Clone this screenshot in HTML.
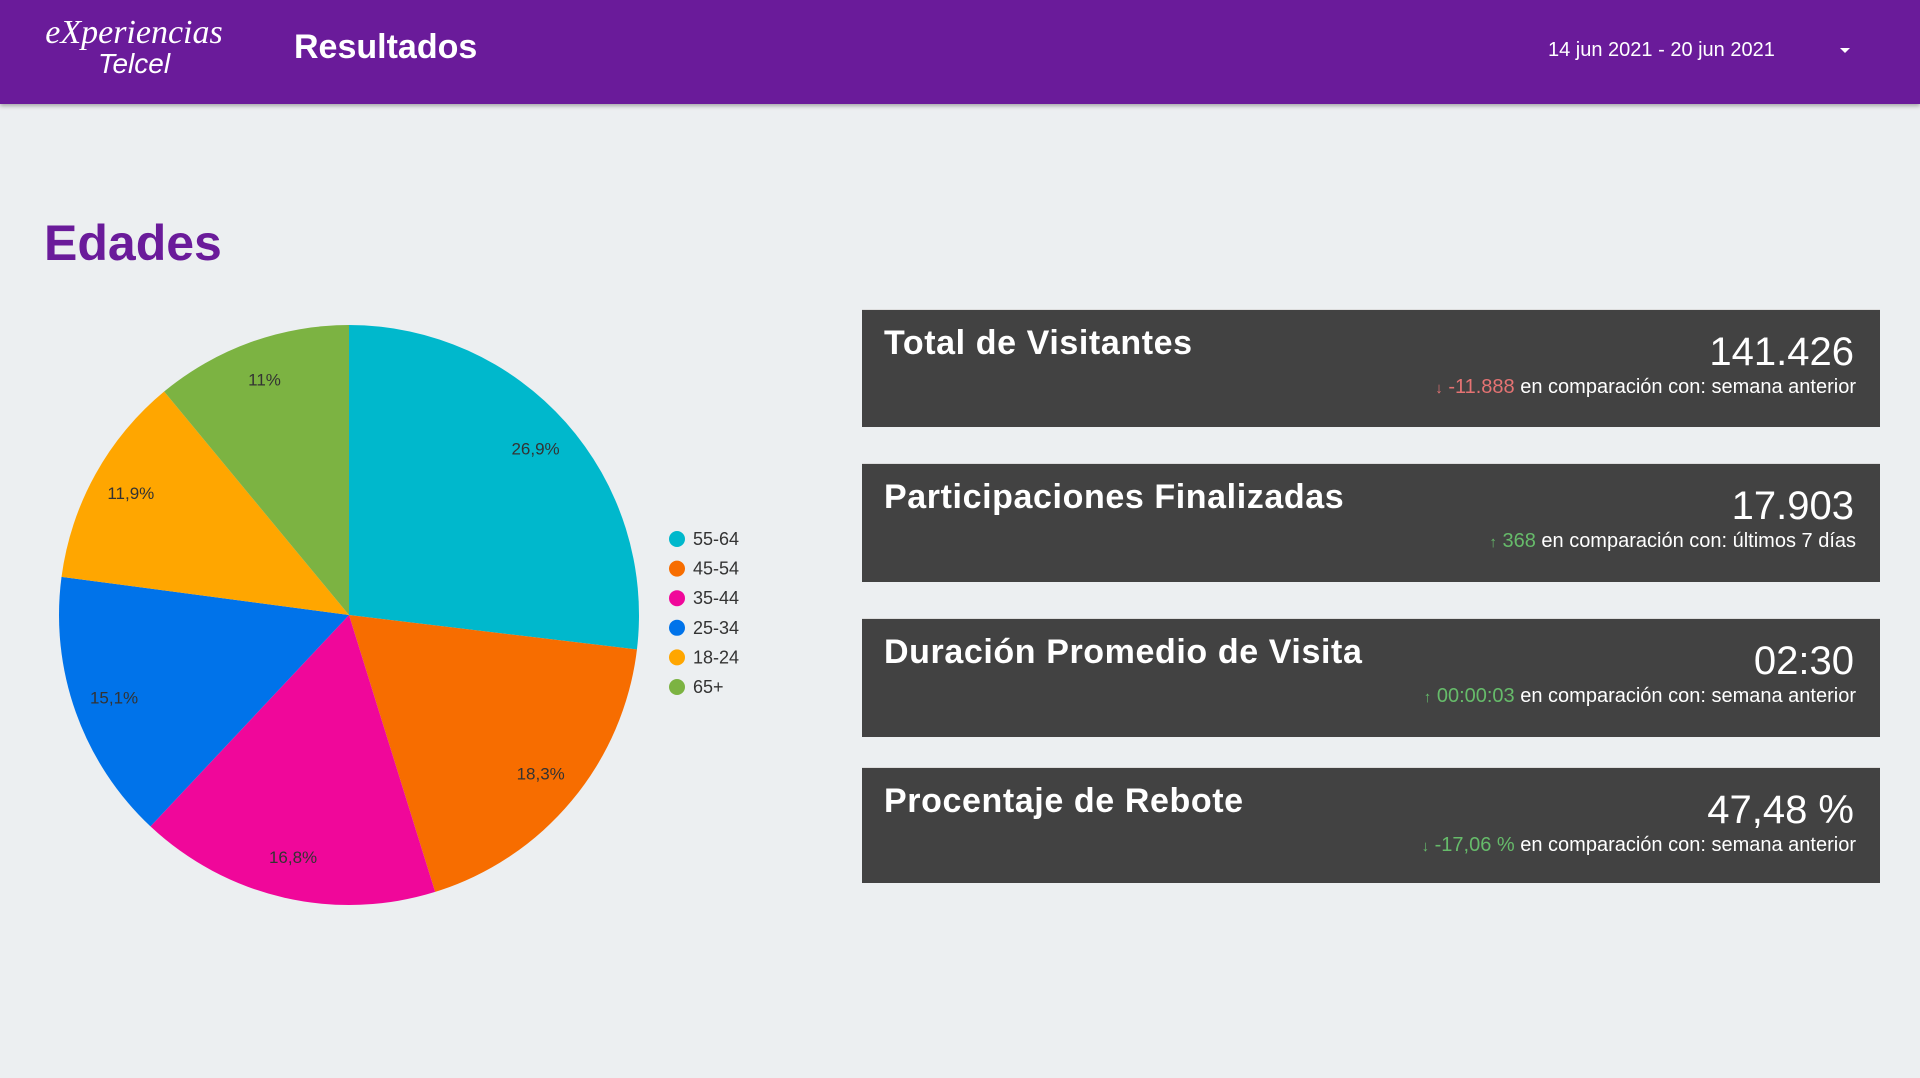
<!DOCTYPE html>
<html><head><meta charset="utf-8"><style>
*{margin:0;padding:0;box-sizing:border-box}
body{width:1920px;height:1078px;background:#eceff1;font-family:"Liberation Sans",sans-serif;position:relative;overflow:hidden}
.hdr{position:absolute;left:0;top:0;width:1920px;height:104px;background:#6a1b9a;box-shadow:0 2px 4px rgba(0,0,0,.3)}
.abs{position:absolute;white-space:nowrap}
.card{position:absolute;left:862px;width:1018px;background:#424242;color:#fff;border-top:1px solid #ddd}
.card .t{position:absolute;left:22px;top:14px;font-size:34px;font-weight:bold;letter-spacing:0.6px}
.card .v{position:absolute;right:26px;top:20px;font-size:40px}
.card .c{position:absolute;right:24px;top:66px;font-size:20px}
.red{color:#e57373}.grn{color:#66bb6a}
</style></head><body>
<div class="hdr">
 <div class="abs" style="left:44px;top:18px;color:#fff;font-family:'Liberation Serif',serif;font-style:italic;font-size:34px;line-height:30px;text-align:center;width:180px">eXperiencias<br><span style="font-family:'Liberation Sans',sans-serif;font-size:28px">Telcel</span></div>
 <div class="abs" style="left:294px;top:28px;color:#fff;font-size:34px;font-weight:bold">Resultados</div>
 <div class="abs" style="left:1548px;top:39px;color:#fff;font-size:20px">14 jun 2021 - 20 jun 2021</div>
 <div class="abs" style="left:1840px;top:48px;width:0;height:0;border-left:5px solid transparent;border-right:5px solid transparent;border-top:5px solid #fff"></div>
</div>
<div class="abs" style="left:44px;top:214px;color:#6a1b9a;font-size:50px;font-weight:bold">Edades</div>
<svg id="pie" style="position:absolute;left:0;top:0" width="860" height="1000"></svg>

<div class="card" style="top:309px;height:118px">
 <div class="t">Total de Visitantes</div>
 <div class="v">141.426</div>
 <div class="c"><span class="red" style="font-size:15px">&#8595;</span> <span class="red">-11.888</span> en comparación con: semana anterior</div>
</div>
<div class="card" style="top:463px;height:119px">
 <div class="t">Participaciones Finalizadas</div>
 <div class="v">17.903</div>
 <div class="c"><span class="grn" style="font-size:15px">&#8593;</span> <span class="grn">368</span> en comparación con: últimos 7 días</div>
</div>
<div class="card" style="top:618px;height:119px">
 <div class="t">Duración Promedio de Visita</div>
 <div class="v">02:30</div>
 <div class="c"><span class="grn" style="font-size:15px">&#8593;</span> <span class="grn">00:00:03</span> en comparación con: semana anterior</div>
</div>
<div class="card" style="top:767px;height:116px">
 <div class="t">Procentaje de Rebote</div>
 <div class="v">47,48 %</div>
 <div class="c"><span class="grn" style="font-size:15px">&#8595;</span> <span class="grn">-17,06 %</span> en comparación con: semana anterior</div>
</div>
<script>
const categories=["55-64","45-54","35-44","25-34","18-24","65+"];
const values=[26.9,18.3,16.8,15.1,11.9,11];
const labels=["26,9%","18,3%","16,8%","15,1%","11,9%","11%"];
const colors=["#00b8cc","#f76d00","#f0079a","#0073ea","#ffa600","#7cb342"];
const svg=document.getElementById('pie');
const NS='http://www.w3.org/2000/svg';
const cx=349,cy=615,r=290;
const total=values.reduce((a,b)=>a+b,0);
let acc=0;
function pt(a,rr){return [cx+rr*Math.sin(a),cy-rr*Math.cos(a)];}
values.forEach((v,i)=>{
 const a0=acc/total*2*Math.PI;acc+=v;const a1=acc/total*2*Math.PI;
 const p0=pt(a0,r),p1=pt(a1,r);
 const path=document.createElementNS(NS,'path');
 path.setAttribute('d',`M${cx},${cy}L${p0[0]},${p0[1]}A${r},${r} 0 ${a1-a0>Math.PI?1:0} 1 ${p1[0]},${p1[1]}Z`);
 path.setAttribute('fill',colors[i]);
 
 
 svg.appendChild(path);
 const m=pt((a0+a1)/2,r*0.86);
 const t=document.createElementNS(NS,'text');
 t.setAttribute('x',m[0]);t.setAttribute('y',m[1]+5);
 t.setAttribute('text-anchor','middle');t.setAttribute('font-size','17');
 t.setAttribute('fill','#333');t.setAttribute('font-family','Liberation Sans, sans-serif');
 t.textContent=labels[i];
 
 
 svg.appendChild(t);
});
categories.forEach((c,i)=>{
 const y=539+i*29.6;
 const g=document.createElementNS(NS,'g');
 
 
 const ci=document.createElementNS(NS,'circle');
 ci.setAttribute('cx',677);ci.setAttribute('cy',y);ci.setAttribute('r',8);ci.setAttribute('fill',colors[i]);
 g.appendChild(ci);
 const t=document.createElementNS(NS,'text');
 t.setAttribute('x',693);t.setAttribute('y',y+6);t.setAttribute('font-size','18');
 t.setAttribute('fill','#333');t.setAttribute('font-family','Liberation Sans, sans-serif');
 t.textContent=c;g.appendChild(t);
 svg.appendChild(g);
});
</script>
</body></html>
